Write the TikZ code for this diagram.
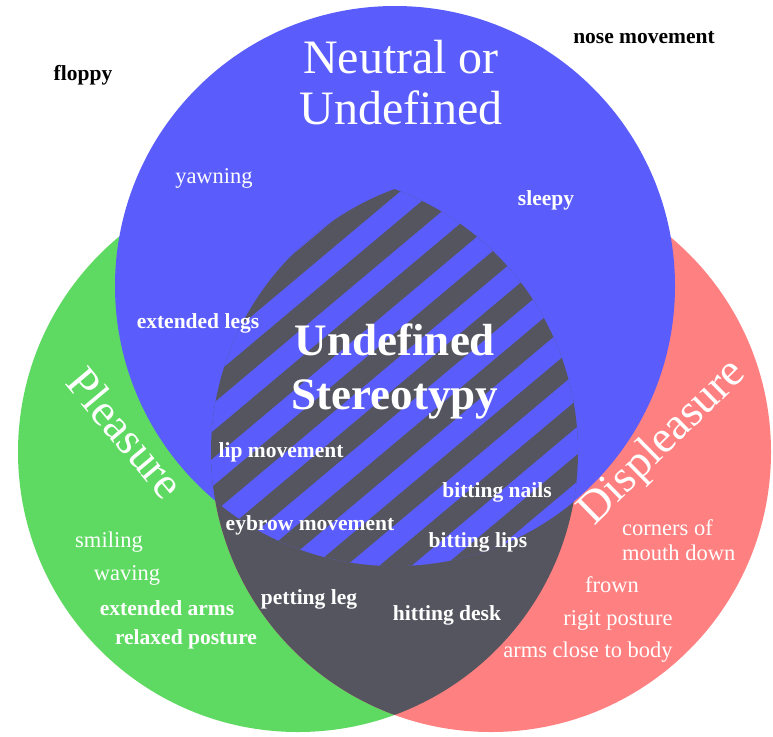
\documentclass[tikz,border=0pt]{standalone}
\usepackage{fontspec}
\setmainfont{Liberation Serif}
\definecolor{venblue}{HTML}{5A5DFC}
\definecolor{vengreen}{HTML}{5EDA62}
\definecolor{venred}{HTML}{FF8080}
\definecolor{vendark}{HTML}{55555F}
\begin{document}
\begin{tikzpicture}[x=1pt,y=-1pt,
  item/.style={text=white, inner sep=0pt, font=\fontsize{22.5}{24}\selectfont},
  itemb/.style={item, font=\fontsize{21.5}{24}\selectfont\bfseries},
  outside/.style={text=black, inner sep=0pt, font=\fontsize{21.5}{24}\selectfont\bfseries},
  title/.style={text=white, inner sep=0pt, align=center, font=\fontsize{48}{51}\selectfont},
  settitle/.style={text=white, inner sep=0pt, font=\fontsize{45.5}{51}\selectfont},
  centretitle/.style={text=white, inner sep=0pt, align=center, font=\fontsize{45}{54}\selectfont\bfseries},
  stripe/.style={draw=venblue, line width=21pt}]
\useasboundingbox (0,0) rectangle (773,736);
\def\R{280}
\coordinate (cb) at (395,286);
\coordinate (cg) at (298,452);
\coordinate (cr) at (491,452);
% the two lower sets and their overlap
\fill[vengreen] (cg) circle[radius=\R];
\fill[venred] (cr) circle[radius=\R];
\begin{scope}
  \clip (cg) circle[radius=\R];
  \fill[vendark] (cr) circle[radius=\R];
\end{scope}
% upper set
\fill[venblue] (cb) circle[radius=\R];
% hatched triple overlap
\begin{scope}
  \clip (cg) circle[radius=\R];
  \clip (cr) circle[radius=\R];
  \clip (cb) circle[radius=\R];
  \fill[vendark] (cb) circle[radius=\R];
  \foreach \k in {-4,...,10}{
    \pgfmathsetmacro\c{414.5+42*\k}
    \draw[stripe] ({\c*0.643-400*0.766},{\c*0.766+400*0.643}) -- ({\c*0.643+400*0.766},{\c*0.766-400*0.643});
  }
\end{scope}
% set titles
\node[title] (tneutral) at (401,83) {Neutral or\\Undefined};
\node[centretitle] (tstereo) at (395,372) {Undefined\\Stereotypy};
\node[settitle, rotate=-50] (tpleasure) at (126,433) {Pleasure};
\node[settitle, rotate=44.5] (tdispleasure) at (663,443) {Displeasure};
% outside the sets
\node[outside] (floppy) at (83,75) {floppy};
\node[outside] (nose) at (644,38) {nose movement};
% neutral
\node[item] (yawning) at (214,178) {yawning};
\node[itemb] (sleepy) at (546,200) {sleepy};
\node[itemb] (legs) at (198,323) {extended legs};
% stereotypy
\node[itemb] (lip) at (281,452) {lip movement};
\node[itemb] (nails) at (497,492) {bitting nails};
\node[itemb] (eyebrow) at (310,525) {eybrow movement};
\node[itemb] (lips) at (478,542) {bitting lips};
\node[itemb] (petting) at (309,599) {petting leg};
\node[itemb] (desk) at (447,615) {hitting desk};
% pleasure
\node[item] (smiling) at (109,542) {smiling};
\node[item] (waving) at (127,575) {waving};
\node[itemb] (arms) at (167,608) {extended arms};
\node[itemb] (relaxed) at (186,639) {relaxed posture};
% displeasure
\node[item, anchor=west, align=left, font=\fontsize{22.5}{25}\selectfont] (corners) at (622,540) {corners of\\mouth down};
\node[item] (frown) at (612,585) {frown};
\node[item] (rigit) at (618,620) {rigit posture};
\node[item] (armsclose) at (588,652) {arms close to body};
\end{tikzpicture}
\end{document}
